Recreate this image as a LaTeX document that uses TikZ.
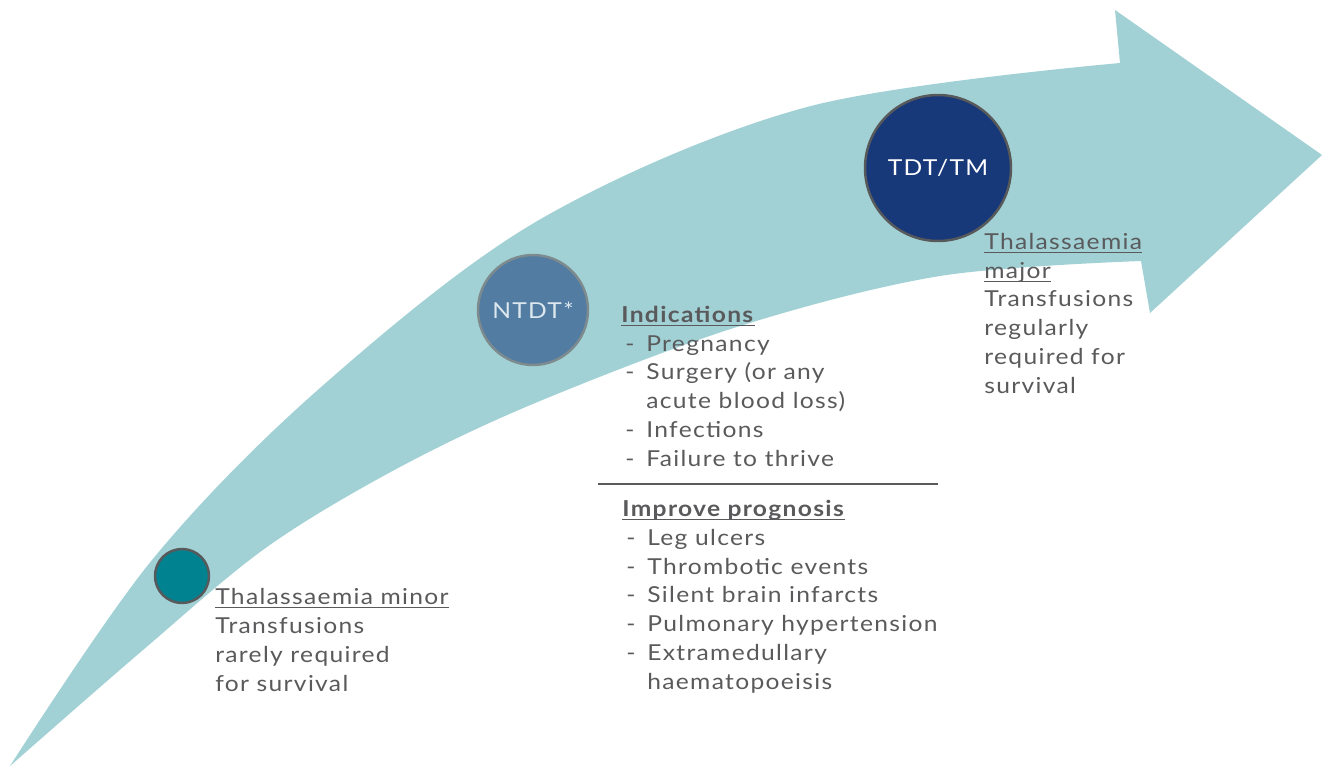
\documentclass[tikz,border=0pt]{standalone}
\usepackage{fontspec}
\setmainfont{Lato}[LetterSpace=6, FakeStretch=1.12]

\definecolor{band}{HTML}{A1D1D5}
\definecolor{txtgray}{HTML}{5A5A5C}
\definecolor{ringgray}{HTML}{58595B}
\definecolor{minorfill}{HTML}{008291}
\definecolor{ntdtfill}{HTML}{537CA3}
\definecolor{ntdtring}{HTML}{7D8B8E}
\definecolor{tdtfill}{HTML}{17397A}

\newcommand\bodyfont{\fontsize{12.5}{16.33}\selectfont}
% underline at a fixed depth, also under descenders
\newcommand\undl[1]{\setbox0\hbox{#1}\rlap{\color{txtgray}\rule[-1.9pt]{\wd0}{0.6pt}}\box0}
\newcommand\itm{\makebox[0.5cm][l]{\hspace{0.08cm}-}}
\newcommand\cont{\hspace{0.5cm}}

\tikzset{
  stage/.style={circle, inner sep=0pt, line width=1.4pt, font=\bodyfont},
  txt/.style={anchor=base west, align=left, inner sep=0pt, text=txtgray, font=\bodyfont},
}

\begin{document}
\begin{tikzpicture}[x=0.02cm, y=-0.02cm]
\useasboundingbox (0,0) rectangle (1323,767);

% curved band with its head
\fill[band] plot[smooth, tension=0.55] coordinates {(10,766) (152,560) (320,388) (539,220) (807,107) (1120,63)}
  -- (1115,10) -- (1322,155) -- (1150,313) -- (1141,261)
  -- plot[smooth, tension=0.55] coordinates {(1141,261) (940,276) (740,326) (540,401) (400,467) (267,547) (143,650) (10,766)}
  -- cycle;

\node[stage, draw=ringgray, fill=minorfill, minimum size=1.08cm] (minor) at (182,576) {};
\node[stage, draw=ntdtring, fill=ntdtfill, minimum size=2.2cm, text={rgb,255:red,220;green,232;blue,238}] (ntdt) at (533,310) {NTDT*};
\node[stage, draw=ringgray, fill=tdtfill, minimum size=2.92cm, text=white] (tdt) at (938,168) {TDT/TM};

% multi-line nodes sit on the baseline of their last line
\node[txt] (minortxt) at (215,691) {\undl{Thalassaemia minor}\\Transfusions\\rarely required\\for survival};

\node[txt] (indic) at (621,466) {\undl{\textbf{Indications}}\\
  \itm Pregnancy\\
  \itm Surgery (or any\\
  \cont acute blood loss)\\
  \itm Infections\\
  \itm Failure to thrive};

\draw[txtgray, line width=1.5pt] (598,484) -- (938,484);

\node[txt] (progn) at (622,689) {\undl{\textbf{Improve prognosis}}\\
  \itm Leg ulcers\\
  \itm Thrombotic events\\
  \itm Silent brain infarcts\\
  \itm Pulmonary hypertension\\
  \itm Extramedullary\\
  \cont haematopoeisis};

\node[txt] (majortxt) at (984,393) {\undl{Thalassaemia}\\\undl{major}\\Transfusions\\regularly\\required for\\survival};
\end{tikzpicture}
\end{document}
